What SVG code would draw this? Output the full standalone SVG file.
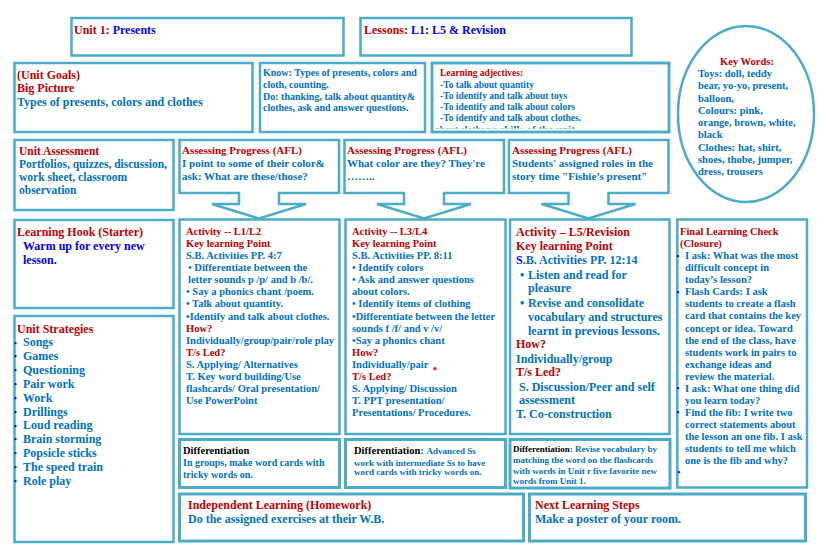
<svg xmlns="http://www.w3.org/2000/svg" width="826" height="551" viewBox="0 0 826 551">
<style>
text{font-family:"Liberation Serif","Times New Roman",serif;font-weight:bold}
.box{fill:#fff;stroke:#4BACC6;stroke-width:2.5}
.box3{fill:#fff;stroke:#4BACC6;stroke-width:3}
.r{fill:#C00000}.u{fill:#0070C0}.p{fill:#0000FF}.k{fill:#000}
.f12{font-size:12px}.f115{font-size:11.5px}.f11{font-size:11px}.f105{font-size:10.5px}.f10{font-size:10px}.f95{font-size:9.5px}.f9{font-size:9px}
.dot{font-size:8px;fill:#0000FF}
</style>
<defs>
<clipPath id="clipAdj"><rect x="433" y="64" width="235" height="64.5"/></clipPath>
</defs>
<rect width="826" height="551" fill="#fff"/>

<g id="unit">
<rect class="box" x="71.5" y="18" width="272" height="37.5"/>
<text x="74" y="34" class="f12"><tspan class="r">Unit 1: </tspan><tspan class="p">Presents</tspan></text>
</g>

<g id="lessons">
<rect class="box" x="360.5" y="18" width="271" height="37.5"/>
<text x="364" y="34" class="f12"><tspan class="r">Lessons: </tspan><tspan class="p">L1: L5 &amp; Revision</tspan></text>
</g>

<g id="unit-goals">
<rect class="box" x="14.5" y="63" width="238" height="69"/>
<text x="17" y="79" class="f12 r">(Unit Goals)</text>
<text x="17" y="92" class="f12 r">Big Picture</text>
<text x="17" y="105.7" class="f12 u">Types of presents, colors and clothes</text>
</g>

<g id="know-do">
<rect class="box" x="260" y="63" width="165" height="69"/>
<text class="f10 u"><tspan x="263" y="76">Know: Types of presents, colors and</tspan><tspan x="263" y="88">cloth, counting.</tspan><tspan x="263" y="100">Do: thanking, talk about quantity&amp;</tspan><tspan x="263" y="111.3">clothes, ask and answer questions.</tspan></text>
</g>

<g id="learning-adjectives">
<rect class="box" x="432" y="63" width="237" height="69"/>
<text x="440" y="76" class="f95 r">Learning adjectives:</text>
<text class="f95 u"><tspan x="440" y="88">-To talk about quantity</tspan><tspan x="440" y="99">-To identify and talk about toys</tspan><tspan x="440" y="110">-To identify and talk about colors</tspan><tspan x="440" y="121">-To identify and talk about clothes.</tspan></text>
<text x="435" y="133" class="u" clip-path="url(#clipAdj)"><tspan font-size="9.5">about clothesve </tspan><tspan font-size="11">skills of the unit</tspan></text>
<rect x="432" y="63" width="237" height="69" fill="none" stroke="#4BACC6" stroke-width="2.5"/>
</g>

<g id="key-words">
<ellipse cx="746" cy="114" rx="68" ry="88" fill="#fff" stroke="#4BACC6" stroke-width="2.5"/>
<text x="747" y="65.2" class="f105 r" text-anchor="middle">Key Words:</text>
<text class="f105 u"><tspan x="698" y="77">Toys: doll, teddy</tspan><tspan x="698" y="89.3">bear, yo-yo, present,</tspan><tspan x="698" y="101.5">balloon,</tspan><tspan x="698" y="113.8">Colours: pink,</tspan><tspan x="698" y="126">orange, brown, white,</tspan><tspan x="698" y="138.3">black</tspan><tspan x="698" y="150.5">Clothes: hat, shirt,</tspan><tspan x="698" y="162.8">shoes, thobe, jumper,</tspan><tspan x="698" y="175">dress, trousers</tspan></text>
</g>

<g id="unit-assessment">
<rect class="box" x="14.5" y="140" width="159" height="70"/>
<text x="19" y="154.5" class="f115 r">Unit Assessment</text>
<text class="f115 u"><tspan x="19" y="167.8">Portfolios, quizzes, discussion,</tspan><tspan x="19" y="181">work sheet, classroom</tspan><tspan x="19" y="193.8">observation</tspan></text>
</g>

<g id="afl-1">
<path class="box" d="M179.5,140 H339 V193 H279 V204 H306 L259,218.5 L212,204 H239 V193 H179.5 Z"/>
<text x="182" y="154.3" class="f11 r">Assessing Progress (AFL)</text>
<text class="f11 u"><tspan x="182" y="167">I point to some of their color&amp;</tspan><tspan x="182" y="180.3">ask: What are these/those?</tspan></text>
</g>

<g id="afl-2">
<path class="box" d="M344.5,140 H504 V193 H444 V204 H471 L424,218.5 L377,204 H404 V193 H344.5 Z"/>
<text x="347" y="154.3" class="f11 r">Assessing Progress (AFL)</text>
<text class="f11 u"><tspan x="347" y="167">What color are they? They're</tspan><tspan x="347" y="180.3">……..</tspan></text>
</g>

<g id="afl-3">
<path class="box" d="M509,140 H668.5 V193 H608.5 V204 H635.5 L588.5,218.5 L541.5,204 H568.5 V193 H509 Z"/>
<text x="512" y="154.3" class="f11 r">Assessing Progress (AFL)</text>
<text class="f11 u"><tspan x="512" y="167">Students' assigned roles in the</tspan><tspan x="512" y="180.3">story time "Fishie’s present"</tspan></text>
</g>

<g id="learning-hook">
<rect class="box" x="14.5" y="220" width="159" height="88"/>
<text x="17" y="235.7" class="f12 r">Learning Hook (Starter)</text>
<text class="f12 p"><tspan x="23" y="250">Warm up for every new</tspan><tspan x="23" y="264">lesson.</tspan></text>
</g>

<g id="unit-strategies">
<rect class="box" x="14.5" y="316" width="159" height="226"/>
<text x="17" y="333.3" class="f12 r">Unit Strategies</text>
<g class="dot">
<text x="14" y="345.5" class="dot">•</text><text x="14" y="359.3" class="dot">•</text><text x="14" y="373.2" class="dot">•</text><text x="14" y="387" class="dot">•</text><text x="14" y="400.9" class="dot">•</text><text x="14" y="414.7" class="dot">•</text><text x="14" y="428.5" class="dot">•</text><text x="14" y="442.4" class="dot">•</text><text x="14" y="456.2" class="dot">•</text><text x="14" y="470.1" class="dot">•</text><text x="14" y="483.9" class="dot">•</text>
</g>
<text class="f12 u"><tspan x="23" y="346.3">Songs</tspan><tspan x="23" y="360.1">Games</tspan><tspan x="23" y="374">Questioning</tspan><tspan x="23" y="387.8">Pair work</tspan><tspan x="23" y="401.7">Work</tspan><tspan x="23" y="415.5">Drillings</tspan><tspan x="23" y="429.3">Loud reading</tspan><tspan x="23" y="443.2">Brain storming</tspan><tspan x="23" y="457">Popsicle sticks</tspan><tspan x="23" y="470.9">The speed train</tspan><tspan x="23" y="484.7">Role play</tspan></text>
</g>

<g id="activity-l1-l2">
<rect class="box" x="179.5" y="219.5" width="160" height="214.5"/>
<text class="f105 r"><tspan x="186" y="235.2">Activity -- L1/L2</tspan><tspan x="186" y="247.3">Key learning Point</tspan></text>
<text class="f105 u"><tspan x="186" y="259.3">S.B. Activities PP. 4:7</tspan><tspan x="188" y="271.3">• Differentiate between the</tspan><tspan x="188" y="283.4">letter sounds p /p/ and b /b/.</tspan><tspan x="186" y="295.4">• Say a phonics chant /poem.</tspan><tspan x="186" y="307.4">• Talk about quantity.</tspan><tspan x="186" y="319.5">•Identify and talk about clothes.</tspan></text>
<text x="186" y="331.5" class="f105 r">How?</text>
<text x="186" y="343.6" class="f105 u">Individually/group/pair/role play</text>
<text x="186" y="355.6" class="f105 r">T/s Led?</text>
<text class="f105 u"><tspan x="186" y="367.6">S. Applying/ Alternatives</tspan><tspan x="186" y="379.7">T. Key word building/Use</tspan><tspan x="186" y="391.7">flashcards/ Oral presentation/</tspan><tspan x="186" y="403.8">Use PowerPoint</tspan></text>
</g>

<g id="activity-l3-l4">
<rect class="box" x="345.5" y="219.5" width="160" height="214.5"/>
<text class="f105 r"><tspan x="352" y="235.2">Activity -- L3/L4</tspan><tspan x="352" y="247.3">Key learning Point</tspan></text>
<text class="f105 u"><tspan x="352" y="259.3">S.B. Activities PP. 8:11</tspan><tspan x="352" y="271.3">• Identify colors</tspan><tspan x="352" y="283.4">• Ask and answer questions</tspan><tspan x="352" y="295.4">about colors.</tspan><tspan x="352" y="307.4">• Identify items of clothing</tspan><tspan x="352" y="319.5">•Differentiate between the letter</tspan><tspan x="352" y="331.5">sounds f /f/ and v /v/</tspan><tspan x="352" y="343.6">•Say a phonics chant</tspan></text>
<text x="352" y="355.6" class="f105 r">How?</text>
<text x="352" y="367.6" class="f105 u">Individually/pair</text>
<circle cx="435" cy="368.7" r="1.6" fill="#E02020"/>
<text x="352" y="379.7" class="f105 r">T/s Led?</text>
<text class="f105 u"><tspan x="352" y="391.7">S. Applying/ Discussion</tspan><tspan x="352" y="403.8">T. PPT presentation/</tspan><tspan x="352" y="415.8">Presentations/ Procedures.</tspan></text>
</g>

<g id="activity-l5">
<rect class="box" x="510" y="219.5" width="159.5" height="214.5"/>
<text class="f12 r"><tspan x="516" y="235.7">Activity – L5/Revision</tspan><tspan x="516" y="250">Key learning Point</tspan></text>
<text x="516" y="264" class="f12 u"><tspan class="p">S</tspan>.B. Activities PP. 12:14</text>
<text class="f12 u"><tspan x="520" y="279.3">•</tspan><tspan x="528" y="279.3">Listen and read for</tspan><tspan x="528" y="292.3">pleasure</tspan><tspan x="520" y="307.3">•</tspan><tspan x="528" y="307.3">Revise and consolidate</tspan><tspan x="528" y="321">vocabulary and structures</tspan><tspan x="528" y="335.3">learnt in previous lessons.</tspan></text>
<text x="516" y="348.3" class="f12 r">How?</text>
<text x="516" y="362.7" class="f12 u">Individually/group</text>
<text x="516" y="376" class="f12 r">T/s Led?</text>
<text class="f12 u"><tspan x="519" y="390.7">S. Discussion/Peer and self</tspan><tspan x="519" y="404">assessment</tspan><tspan x="516" y="418.3">T. Co-construction</tspan></text>
</g>

<g id="final-check">
<rect class="box" x="677.3" y="219.5" width="129.7" height="268"/>
<text class="f105 r"><tspan x="680" y="235.2">Final Learning Check</tspan><tspan x="680" y="247.2">(Closure)</tspan></text>
<text class="dot" font-size="7"><tspan x="676.5" y="258.5">•</tspan><tspan x="676.5" y="294.6">•</tspan><tspan x="676.5" y="391">•</tspan><tspan x="676.5" y="415.2">•</tspan><tspan x="677.5" y="474.5">•</tspan></text>
<text class="f105 u"><tspan x="685" y="259.2">I ask:  What was the most</tspan><tspan x="685" y="271.2">difficult concept in</tspan><tspan x="685" y="283.3">today’s lesson?</tspan><tspan x="685" y="295.3">Flash Cards: I ask</tspan><tspan x="685" y="307.4">students to create a flash</tspan><tspan x="685" y="319.4">card that contains the key</tspan><tspan x="685" y="331.5">concept or idea.  Toward</tspan><tspan x="685" y="343.5">the end of the class, have</tspan><tspan x="685" y="355.6">students work in pairs to</tspan><tspan x="685" y="367.6">exchange ideas and</tspan><tspan x="685" y="379.7">review the material.</tspan><tspan x="685" y="391.7">I ask: What one thing did</tspan><tspan x="685" y="403.8">you learn today?</tspan><tspan x="685" y="415.8">Find the fib: I write two</tspan><tspan x="685" y="427.9">correct statements about</tspan><tspan x="685" y="439.9">the lesson an one fib. I ask</tspan><tspan x="685" y="452">students to tell me which</tspan><tspan x="685" y="464">one is the fib and why?</tspan></text>
</g>

<g id="differentiation-1">
<rect class="box3" x="179.5" y="439.5" width="160" height="48"/>
<text x="183" y="454.2" class="f105 k">Differentiation</text>
<text class="f10 u"><tspan x="183" y="466.3">In groups, make word cards with</tspan><tspan x="183" y="477.6">tricky words on.</tspan></text>
</g>

<g id="differentiation-2">
<rect class="box3" x="345.5" y="439.5" width="160" height="48"/>
<text x="354" y="454.2"><tspan class="f105 k">Differentiation</tspan><tspan class="f105 u">: </tspan><tspan class="f9 u">Advanced Ss</tspan></text>
<text class="f9 u"><tspan x="354" y="465.7">work with intermediate Ss to have</tspan><tspan x="354" y="475">word cards with tricky words on.</tspan></text>
</g>

<g id="differentiation-3">
<rect class="box3" x="510" y="439.5" width="160" height="48.5"/>
<text x="513" y="452.3" class="f9"><tspan class="k">Differentiation</tspan><tspan class="u">: Revise vocabulary by</tspan></text>
<text class="f9 u"><tspan x="513" y="463.3">matching the word on the flashcards</tspan><tspan x="513" y="474">with words in Unit r five favorite new</tspan><tspan x="513" y="484">words from Unit 1.</tspan></text>
</g>

<g id="independent-learning">
<rect class="box3" x="179.5" y="494" width="344" height="47"/>
<text x="188" y="509" class="f12 r">Independent Learning (Homework)</text>
<text x="188" y="523.3" class="f12 u">Do the assigned exercises at their W.B.</text>
</g>

<g id="next-steps">
<rect class="box3" x="529.5" y="494" width="276" height="47"/>
<text x="535" y="509" class="f12 r">Next Learning Steps</text>
<text x="535" y="523.3" class="f12 u">Make a poster of your room.</text>
</g>

<g id="connectors"></g>
</svg>
